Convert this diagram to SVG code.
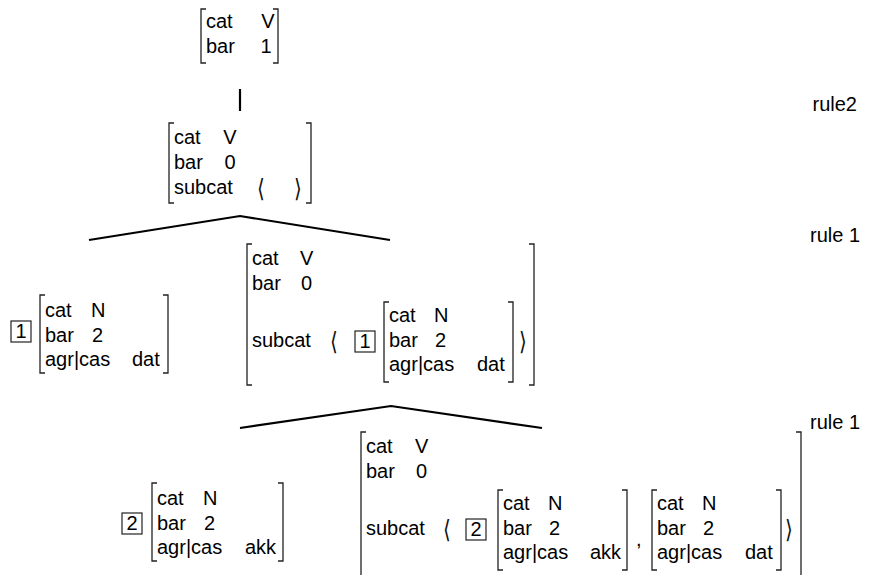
<svg xmlns="http://www.w3.org/2000/svg" width="872" height="575" viewBox="0 0 872 575">
<style>
.t{font-family:"Liberation Sans",Arial,sans-serif;font-size:20px;fill:#000}
.m{text-anchor:middle}
.ang{font-family:"DejaVu Sans","Liberation Sans",sans-serif;font-size:20px;font-weight:200;fill:#111;text-anchor:middle}
.br{fill:none;stroke:#222;stroke-width:1.3}
.bx{fill:none;stroke:#222;stroke-width:1.2}
.edge{fill:none;stroke:#000;stroke-width:2.2}
</style>
<rect width="872" height="575" fill="#fff"/>
<g id="connectors">
<line class="edge" x1="240" y1="89" x2="240" y2="111"/>
<polyline class="edge" points="89,240 240,216 390,240"/>
<polyline class="edge" points="240,428 391,406 542,428"/>
</g>
<g id="labels">
<text class="t" x="857" y="111" text-anchor="end">rule2</text>
<text class="t" x="860" y="242" text-anchor="end">rule 1</text>
<text class="t" x="860" y="429" text-anchor="end">rule 1</text>
</g>
<g id="n-top">
<path class="br" d="M206,9H201V63H206M273,9H278V63H273"/>
<text class="t" x="206" y="28">cat</text>
<text class="t" x="206" y="53">bar</text>
<text class="t m" x="268" y="28">V</text>
<text class="t m" x="266" y="53">1</text>
</g>
<g id="n-v0">
<path class="br" d="M174,123H169V203H174M306,123H311V203H306"/>
<text class="t" x="174" y="144">cat</text>
<text class="t" x="174" y="169">bar</text>
<text class="t" x="174" y="194">subcat</text>
<text class="t m" x="230" y="144">V</text>
<text class="t m" x="230" y="169">0</text>
<text class="ang" transform="translate(261,197) scale(1,1.25)">⟨</text>
<text class="ang" transform="translate(298,197) scale(1,1.25)">⟩</text>
</g>
<g id="n-np1">
<rect class="bx" x="11" y="321" width="20" height="21"/>
<text class="t m" x="21" y="338">1</text>
<path class="br" d="M45,295H40V373H45M163,295H168V373H163"/>
<text class="t" x="45" y="317">cat</text>
<text class="t" x="45" y="342">bar</text>
<text class="t" x="45" y="366">agr|cas</text>
<text class="t" x="91" y="317">N</text>
<text class="t" x="92" y="342">2</text>
<text class="t" x="132" y="366">dat</text>
</g>
<g id="n-v0-sub1">
<path class="br" d="M252,244H247V385H252M529,244H534V385H529"/>
<text class="t" x="252" y="265">cat</text>
<text class="t" x="252" y="290">bar</text>
<text class="t" x="252" y="347">subcat</text>
<text class="t" x="300" y="265">V</text>
<text class="t" x="301" y="290">0</text>
<text class="ang" transform="translate(334,350) scale(1,1.25)">⟨</text>
<rect class="bx" x="355" y="331" width="20" height="21"/>
<text class="t m" x="365" y="348">1</text>
<path class="br" d="M389,302H384V382H389M508,302H513V382H508"/>
<text class="t" x="389" y="322">cat</text>
<text class="t" x="389" y="347">bar</text>
<text class="t" x="389" y="371">agr|cas</text>
<text class="t" x="434" y="322">N</text>
<text class="t" x="435" y="347">2</text>
<text class="t" x="477" y="371">dat</text>
<text class="ang" transform="translate(523,350) scale(1,1.25)">⟩</text>
</g>
<g id="n-np2">
<rect class="bx" x="122" y="513" width="20" height="21"/>
<text class="t m" x="132" y="530">2</text>
<path class="br" d="M157,483H152V561H157M278,483H283V561H278"/>
<text class="t" x="157" y="505">cat</text>
<text class="t" x="157" y="530">bar</text>
<text class="t" x="157" y="554">agr|cas</text>
<text class="t" x="203" y="505">N</text>
<text class="t" x="204" y="530">2</text>
<text class="t" x="245" y="554">akk</text>
</g>
<g id="n-v0-sub21">
<path class="br" d="M366,432H361V576M796,432H801V576"/>
<text class="t" x="366" y="453">cat</text>
<text class="t" x="366" y="478">bar</text>
<text class="t" x="366" y="535">subcat</text>
<text class="t" x="415" y="453">V</text>
<text class="t" x="416" y="478">0</text>
<text class="ang" transform="translate(447,538) scale(1,1.25)">⟨</text>
<rect class="bx" x="466" y="519" width="20" height="21"/>
<text class="t m" x="476" y="536">2</text>
<path class="br" d="M503,490H498V570H503M622,490H627V570H622"/>
<text class="t" x="503" y="510">cat</text>
<text class="t" x="503" y="535">bar</text>
<text class="t" x="503" y="559">agr|cas</text>
<text class="t" x="548" y="510">N</text>
<text class="t" x="549" y="535">2</text>
<text class="t" x="590" y="559">akk</text>
<text class="t" x="636" y="546">,</text>
<path class="br" d="M657,490H652V570H657M776,490H781V570H776"/>
<text class="t" x="657" y="510">cat</text>
<text class="t" x="657" y="535">bar</text>
<text class="t" x="657" y="559">agr|cas</text>
<text class="t" x="702" y="510">N</text>
<text class="t" x="703" y="535">2</text>
<text class="t" x="745" y="559">dat</text>
<text class="ang" transform="translate(789,538) scale(1,1.25)">⟩</text>
</g>
</svg>
